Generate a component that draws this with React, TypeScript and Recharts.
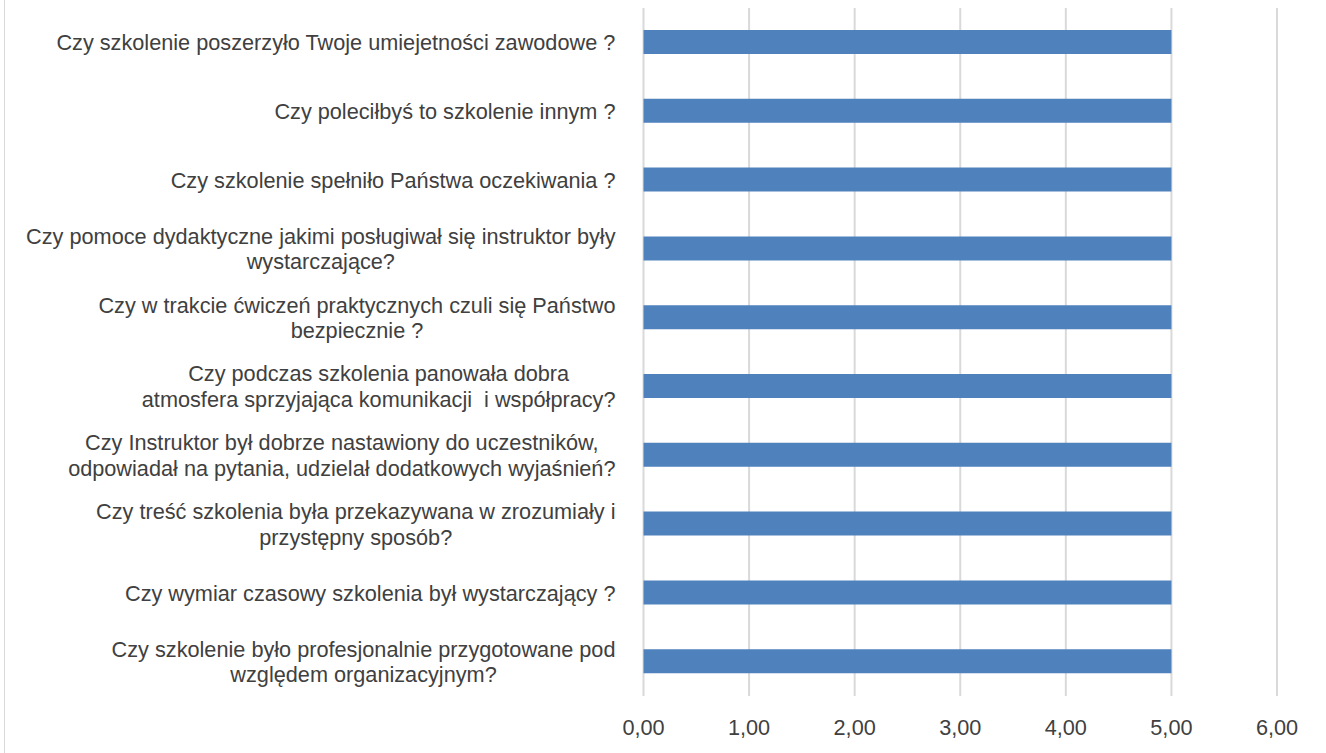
import React from 'react'
import { BarChart, Bar, XAxis, YAxis, CartesianGrid } from 'recharts'

const questions: string[][] = [
  ['Czy szkolenie poszerzyło Twoje umiejetności zawodowe ?'],
  ['Czy poleciłbyś to szkolenie innym ?'],
  ['Czy szkolenie spełniło Państwa oczekiwania ?'],
  ['Czy pomoce dydaktyczne jakimi posługiwał się instruktor były', 'wystarczające?'],
  ['Czy w trakcie ćwiczeń praktycznych czuli się Państwo', 'bezpiecznie ?'],
  ['Czy podczas szkolenia panowała dobra', 'atmosfera sprzyjająca komunikacji  i współpracy?'],
  ['Czy Instruktor był dobrze nastawiony do uczestników,', 'odpowiadał na pytania, udzielał dodatkowych wyjaśnień?'],
  ['Czy treść szkolenia była przekazywana w zrozumiały i', 'przystępny sposób?'],
  ['Czy wymiar czasowy szkolenia był wystarczający ?'],
  ['Czy szkolenie było profesjonalnie przygotowane pod', 'względem organizacyjnym?'],
]

const scores = [5, 5, 5, 5, 5, 5, 5, 5, 5, 5]

const xTicks = [0, 1, 2, 3, 4, 5, 6]

const FONT = '"Liberation Sans", Arial, sans-serif'
const FONT_SIZE = 21.7
const TEXT = '#404040'

const data = questions.map((lines, i) => ({
  name: lines.join('\n'),
  score: scores[i],
}))

let ctx: CanvasRenderingContext2D | null = null
function textWidth(s: string) {
  if (!ctx) {
    ctx = document.createElement('canvas').getContext('2d')
    if (ctx) ctx.font = `${FONT_SIZE}px "Liberation Sans"`
  }
  return ctx ? ctx.measureText(s).width : s.length * 10
}

function QuestionTick({ x, y, payload }: any) {
  const lines: string[] = String(payload.value).split('\n')
  const widest = Math.max(...lines.map(textWidth))
  const cx = x - widest / 2
  const lh = 25.5
  const top = y - ((lines.length - 1) * lh) / 2
  return (
    <g>
      {lines.map((line, i) => (
        <text
          key={i}
          x={cx}
          y={top + i * lh}
          dy="0.36em"
          textAnchor="middle"
          fill={TEXT}
          fontSize={FONT_SIZE}
          fontFamily={FONT}
          style={{ whiteSpace: 'pre' }}
        >
          {line}
        </text>
      ))}
    </g>
  )
}

export default function App() {
  return (
    <div style={{ position: 'absolute', left: 0, top: 0, width: 1326, height: 753, background: '#fff' }}>
      <div
        style={{
          position: 'absolute',
          left: 4,
          top: 0,
          width: 0,
          height: 753,
          borderLeft: '1.5px solid #D9D9D9',
        }}
      />
      <BarChart
        width={1326}
        height={753}
        data={data}
        layout="vertical"
        margin={{ top: 8, right: 49, bottom: 12, left: 0 }}
      >
        <CartesianGrid horizontal={false} stroke="#D9D9D9" strokeWidth={2} />
        <XAxis
          type="number"
          domain={[0, 6]}
          ticks={xTicks}
          tickFormatter={(v: number) => v.toFixed(2).replace('.', ',')}
          axisLine={false}
          tickLine={false}
          tickMargin={18}
          height={45}
          tick={{ fill: TEXT, fontSize: FONT_SIZE, fontFamily: FONT }}
        />
        <YAxis
          type="category"
          dataKey="name"
          width={643.5}
          axisLine={false}
          tickLine={false}
          tickMargin={22}
          interval={0}
          tick={<QuestionTick />}
        />
        <Bar dataKey="score" fill="#4F81BD" barSize={24} isAnimationActive={false} />
      </BarChart>
    </div>
  )
}
